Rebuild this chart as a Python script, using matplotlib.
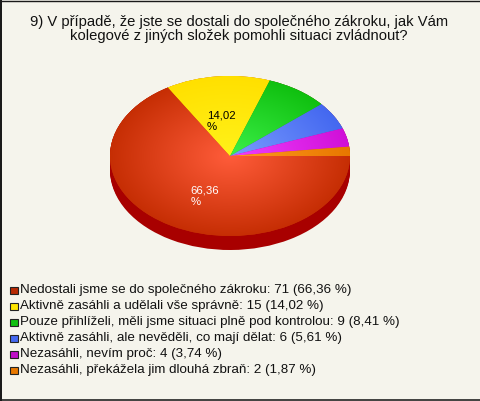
import numpy as np
import matplotlib
matplotlib.use("Agg")
import matplotlib.pyplot as plt
from matplotlib.colors import LinearSegmentedColormap
from matplotlib.patches import Rectangle

title = "9) V případě, že jste se dostali do společného zákroku, jak Vám\nkolegové z jiných složek pomohli situaci zvládnout?"
categories = ["Nedostali jsme se do společného zákroku",
              "Aktivně zasáhli a udělali vše správně",
              "Pouze přihlíželi, měli jsme situaci plně pod kontrolou",
              "Aktivně zasáhli, ale nevěděli, co mají dělat",
              "Nezasáhli, nevím proč",
              "Nezasáhli, překážela jim dlouhá zbraň"]
counts = [71, 15, 9, 6, 4, 2]
percents = ["66,36", "14,02", "8,41", "5,61", "3,74", "1,87"]
inner_colors = ["#ff5c3a", "#fff21a", "#3cf048", "#7a9cff", "#f040ff", "#ff9a20"]
outer_colors = ["#c62e04", "#ffe000", "#10c010", "#4468f0", "#d010d8", "#e87800"]
swatch_colors = ["#b82a04", "#ffe600", "#10c010", "#4468f0", "#c010c8", "#e87800"]
side_color = "#a80000"
bg = "#f5f4ec"
border = "#1a1a1a"

W, H = 480, 401
fig = plt.figure(figsize=(W/100, H/100), dpi=100, facecolor=bg)
plt.rcParams['font.family'] = ['Liberation Sans', 'DejaVu Sans']

ax = fig.add_axes([0, 0, 1, 1])
ax.set_axis_off()

def fx(px): return px/W
def fy(py): return 1-py/H

# frame: dark on the left, top and bottom, faint on the right
for (x0, y0_, x1, y1, col, lw) in [(0.5, 0, 0.5, H, border, 2.0),
                                   (0, 0.5, W, 0.5, border, 1.4),
                                   (0, 400.2, W, 400.2, border, 1.6),
                                   (479.5, 0, 479.5, H, "#e4e3da", 1.0)]:
    fig.add_artist(plt.Line2D([fx(x0), fx(x1)], [fy(y0_), fy(y1)], transform=fig.transFigure,
                              color=col, linewidth=lw*0.72, zorder=10))

cx, cy, rx, ry, depth = 230, 156, 120, 80, 14
ax_pie = fig.add_axes([(cx-rx)/W, 1-(cy+ry+depth)/H, 2*rx/W, (2*ry+depth)/H])
ax_pie.set_axis_off()

d_units = depth/ry
# extruded rim, drawn through the same pie layout at stepped offsets
for d in np.linspace(d_units, 0.0, 15):
    ax_pie.pie(counts, startangle=0, counterclock=False, radius=1, center=(0, -d),
               colors=[side_color]*6, wedgeprops=dict(linewidth=0), normalize=True)

wedges, _ = ax_pie.pie(counts, startangle=0, counterclock=False, radius=1,
                       colors=outer_colors, wedgeprops=dict(linewidth=0), normalize=True)
gx, gy = np.meshgrid(np.linspace(-1, 1, 300), np.linspace(-1, 1, 300))
rad = np.clip(np.hypot(gx, gy), 0, 1)
for w, c0, c1 in zip(wedges, inner_colors, outer_colors):
    cm = LinearSegmentedColormap.from_list("g", [c0, c1])
    im = ax_pie.imshow(rad, extent=(-1, 1, -1, 1), origin="lower", cmap=cm, vmin=0, vmax=1,
                       aspect="auto", interpolation="bilinear", zorder=3)
    im.set_clip_path(w)

ax_pie.set_aspect("auto")
ax_pie.set_xlim(-1, 1)
ax_pie.set_ylim(-1-d_units, 1)

fig.text(fx(239), fy(29.0), title, ha="center", va="center", fontsize=10.6,
         color="#111111", linespacing=1.08)

fig.text(fx(190.5), fy(196), percents[0]+"\n%", color="white", fontsize=8.2,
         ha="left", va="center", linespacing=1.2, zorder=5)
fig.text(fx(207), fy(121), percents[1]+"\n%", color="black", fontsize=8.2,
         ha="left", va="center", linespacing=1.2, zorder=5)

y0, dy = 290.2, 16.0
for i, (cat, n, p, sc) in enumerate(zip(categories, counts, percents, swatch_colors)):
    y = y0 + i*dy
    fig.add_artist(Rectangle((fx(10), fy(y+4)), 7.5/W, 7.5/H, transform=fig.transFigure,
                             facecolor=sc, edgecolor="#222222", linewidth=0.8))
    fig.text(fx(20), fy(y), f"{cat}: {n} ({p} %)", fontsize=9.6, color="#111111",
             ha="left", va="center")

fig.savefig("out.png", dpi=100, facecolor=bg)
